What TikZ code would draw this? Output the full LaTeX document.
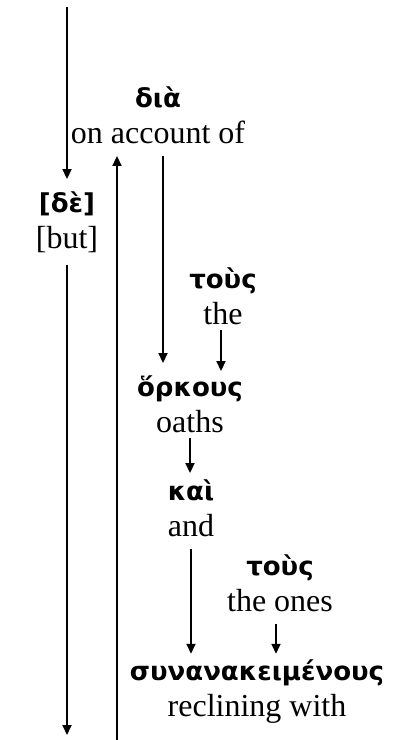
\documentclass[tikz,border=0pt]{standalone}
\usepackage{fontspec}
\setmainfont{Liberation Serif}
\newfontfamily\grkfont{DejaVu Sans}
\usetikzlibrary{arrows.meta}
\newcommand{\grkword}[1]{{\grkfont\bfseries\fontsize{13}{18}\selectfont #1}}

\begin{document}
\begin{tikzpicture}[x=0.5pt,y=-0.5pt,font=\fontsize{16}{18}\selectfont]
    \tikzset{word/.style={align=center,inner sep=6pt},
      link/.style={-{Triangle[length=5pt,width=4.5pt]},line width=0.9pt}}
    \useasboundingbox (0,0) rectangle (395,740);
    \node[word] (de) at (67,222) {\grkword{[δὲ]}\\{[but]}};
    \node[word] (dia) at (158,115) {\grkword{διὰ}\\on account of};
    \node[word] (tous) at (223,296) {\grkword{τοὺς}\\the};
    \node[word] (orkous) at (190,404) {\grkword{ὅρκους}\\oaths};
    \node[word] (kai) at (191,508) {\grkword{καὶ}\\and};
    \node[word] (toustwo) at (280,583) {\grkword{τοὺς}\\the ones};
    \node[word] (syn) at (257,692) {\grkword{συνανακειμένους}\\reclining with};
    \coordinate (topend) at (67,7);
    \coordinate (downend) at (67,735);
    \coordinate (upfoot) at (117,740);
    % main line
    \draw[link] (topend) -- (de.north);
    \draw[link] (de.south) -- (downend);
    \draw[link] (upfoot) -- (upfoot |- dia.south);
    % modifiers
    \draw[link] ([xshift=2.5pt]dia.south) -- ([xshift=2.5pt]dia.south |- orkous.north);
    \draw[link,shorten >=-4pt] ([xshift=-1pt,yshift=3.5pt]tous.south) -- ([xshift=-1pt]tous.south |- orkous.north);
    \draw[link,shorten >=-3pt] ([yshift=3.5pt]orkous.south) -- (orkous.south |- kai.north);
    \draw[link,shorten >=-3pt] (kai.south) -- (kai.south |- syn.north);
    \draw[link,shorten >=-3pt] ([xshift=-2pt]toustwo.south) -- ([xshift=-2pt]toustwo.south |- syn.north);
  \end{tikzpicture}
\end{document}
